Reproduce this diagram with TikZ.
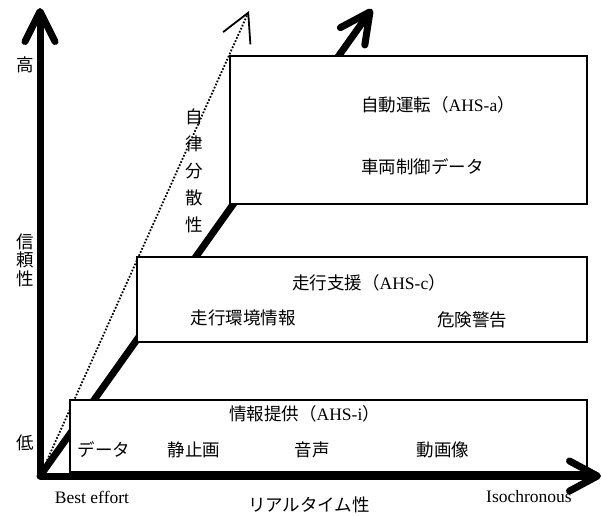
\documentclass[tikz,border=0pt]{standalone}
\usepackage{fontspec}
\setmainfont{Liberation Serif}
\newfontfamily\jp{Noto Sans CJK JP}
\usetikzlibrary{arrows.meta}
\begin{document}
\begin{tikzpicture}[x=1pt,y=-1pt,
  axis/.style={line width=7pt, line cap=round, line join=round},
  bigbarb/.style={-{Straight Barb[length=30pt,width=30pt,round]}},
  boxnode/.style={draw, fill=white, line width=2pt, inner sep=0pt, outer sep=0pt, anchor=north west},
  lbl/.style={inner sep=0pt, font=\fontsize{17.5}{20}\selectfont},
  jlbl/.style={inner sep=0pt, font=\fontsize{17.5}{20}\selectfont\jp}]
\useasboundingbox (0,0) rectangle (602,515);
\coordinate (O) at (40,476);
\coordinate (Vtip) at (40,8);
\coordinate (Htip) at (601,476);
\coordinate (Dtip) at (372,9);
\coordinate (Ptip) at (249,11);
% dotted arrow
\draw[line width=1.8pt, dash pattern=on 1.7pt off 1.7pt, -{Straight Barb[length=28pt,width=30pt]}] (O) -- (Ptip);
% thick diagonal
\draw[axis, bigbarb] (O) -- (Dtip);
% boxes
\node[boxnode, minimum width=517pt, minimum height=72pt] (b1) at (70,400) {};
\node[boxnode, minimum width=450pt, minimum height=85pt] (b2) at (137,257) {};
\node[boxnode, minimum width=357pt, minimum height=148pt] (b3) at (230,56) {};
% axes
\draw[axis, {Straight Barb[length=30pt,width=30pt,round]}-{Straight Barb[length=28pt,width=30pt,round]}] (Vtip) -- (O) -- (Htip);
% axis labels
\node[jlbl] (hi) at (25,65) {高};
\node[jlbl, align=center, font=\fontsize{17.5}{18.5}\selectfont\jp] (rel) at (25,260) {信\\頼\\性};
\node[jlbl] (lo) at (25,443) {低};
\node[jlbl, align=center, font=\fontsize{17.5}{27}\selectfont\jp] (auton) at (194,171) {自\\律\\分\\散\\性};
% box texts
\node[lbl, anchor=west] (a1) at (361,105) {{\jp 自動運転（}AHS-a{\jp ）}};
\node[jlbl, anchor=west] (a2) at (361,167) {車両制御データ};
\node[lbl, anchor=west] (c1) at (292,283) {{\jp 走行支援（}AHS-c{\jp ）}};
\node[jlbl] (c2) at (243,318) {走行環境情報};
\node[jlbl] (c3) at (472,320) {危険警告};
\node[lbl, anchor=west] (i1) at (229,414) {{\jp 情報提供（}AHS-i{\jp ）}};
\node[jlbl] (i2) at (104,450) {データ};
\node[jlbl] (i3) at (194,450) {静止画};
\node[jlbl] (i4) at (312,450) {音声};
\node[jlbl] (i5) at (443,450) {動画像};
\node[lbl] (be) at (92,497) {Best effort};
\node[jlbl] (rt) at (309,505) {リアルタイム性};
\node[lbl] (iso) at (529,497) {Isochronous};
\end{tikzpicture}
\end{document}
